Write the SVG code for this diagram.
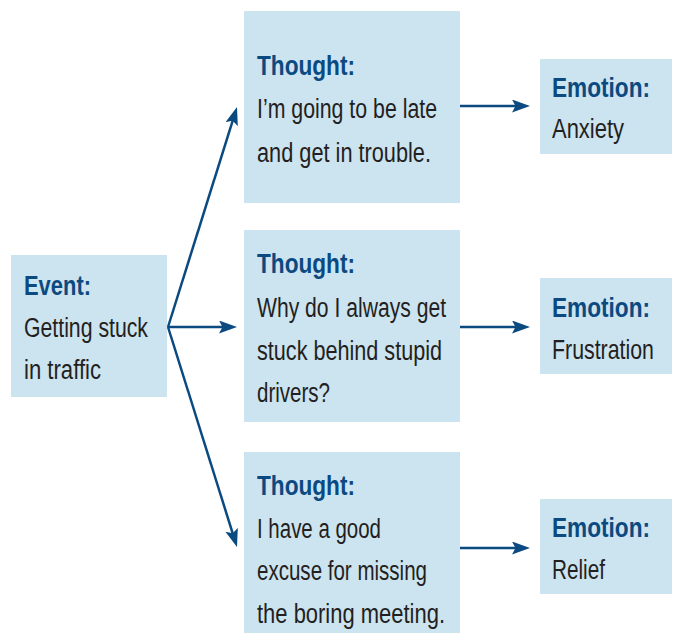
<svg xmlns="http://www.w3.org/2000/svg" width="673" height="633" viewBox="0 0 673 633">
<style>
.box{fill:#cce3f0}
.ttl{font-family:"Liberation Sans",Arial,sans-serif;font-weight:bold;font-size:27px;fill:#0b4a80}
.txt{font-family:"Liberation Sans",Arial,sans-serif;font-size:27px;fill:#231f20}
.arr{stroke:#0b4a80;stroke-width:2.5;fill:none;marker-end:url(#ah)}
</style>
<defs>
<marker id="ah" markerUnits="userSpaceOnUse" markerWidth="20" markerHeight="14" refX="10" refY="6.5" orient="auto" viewBox="0 0 20 14">
<path d="M0,0 L18,6.5 L0,13 L3.5,6.5 Z" fill="#0b4a80"/>
</marker>
</defs>
<rect width="673" height="633" fill="#ffffff"/>
<g id="connectors">
<line class="arr" x1="168" y1="327" x2="234.6" y2="114.6"/>
<line class="arr" x1="168" y1="327" x2="229" y2="327"/>
<line class="arr" x1="168" y1="327" x2="234.6" y2="539.4"/>
<line class="arr" x1="460" y1="106" x2="522" y2="106"/>
<line class="arr" x1="460" y1="327" x2="522" y2="327"/>
<line class="arr" x1="460" y1="548" x2="522" y2="548"/>
</g>
<g id="event">
<rect class="box" x="11" y="255" width="156" height="142"/>
<text class="ttl" x="24" y="295" textLength="67" lengthAdjust="spacingAndGlyphs">Event:</text>
<text class="txt" x="24" y="337" textLength="124" lengthAdjust="spacingAndGlyphs">Getting stuck</text>
<text class="txt" x="24" y="379" textLength="77" lengthAdjust="spacingAndGlyphs">in traffic</text>
</g>
<g id="thought1">
<rect class="box" x="244" y="11" width="216" height="192"/>
<text class="ttl" x="257" y="75" textLength="98" lengthAdjust="spacingAndGlyphs">Thought:</text>
<text class="txt" x="257" y="118" textLength="180" lengthAdjust="spacingAndGlyphs">I’m going to be late</text>
<text class="txt" x="257" y="162" textLength="174" lengthAdjust="spacingAndGlyphs">and get in trouble.</text>
</g>
<g id="thought2">
<rect class="box" x="244" y="230" width="216" height="192"/>
<text class="ttl" x="257" y="273" textLength="98" lengthAdjust="spacingAndGlyphs">Thought:</text>
<text class="txt" x="257" y="317" textLength="189" lengthAdjust="spacingAndGlyphs">Why do I always get</text>
<text class="txt" x="257" y="360" textLength="185" lengthAdjust="spacingAndGlyphs">stuck behind stupid</text>
<text class="txt" x="257" y="402" textLength="73" lengthAdjust="spacingAndGlyphs">drivers?</text>
</g>
<g id="thought3">
<rect class="box" x="244" y="452" width="216" height="181"/>
<text class="ttl" x="257" y="495" textLength="98" lengthAdjust="spacingAndGlyphs">Thought:</text>
<text class="txt" x="257" y="538" textLength="124" lengthAdjust="spacingAndGlyphs">I have a good</text>
<text class="txt" x="257" y="580" textLength="170" lengthAdjust="spacingAndGlyphs">excuse for missing</text>
<text class="txt" x="257" y="623" textLength="188" lengthAdjust="spacingAndGlyphs">the boring meeting.</text>
</g>
<g id="emotion1">
<rect class="box" x="540" y="59" width="132" height="95"/>
<text class="ttl" x="552" y="97" textLength="98" lengthAdjust="spacingAndGlyphs">Emotion:</text>
<text class="txt" x="552" y="138" textLength="72" lengthAdjust="spacingAndGlyphs">Anxiety</text>
</g>
<g id="emotion2">
<rect class="box" x="540" y="278" width="132" height="96"/>
<text class="ttl" x="552" y="317" textLength="98" lengthAdjust="spacingAndGlyphs">Emotion:</text>
<text class="txt" transform="translate(552,359) scale(0.79,1)" x="0" y="0">Frustration</text>
</g>
<g id="emotion3">
<rect class="box" x="540" y="499" width="132" height="95"/>
<text class="ttl" x="552" y="537" textLength="98" lengthAdjust="spacingAndGlyphs">Emotion:</text>
<text class="txt" x="552" y="579" textLength="53" lengthAdjust="spacingAndGlyphs">Relief</text>
</g>
</svg>
